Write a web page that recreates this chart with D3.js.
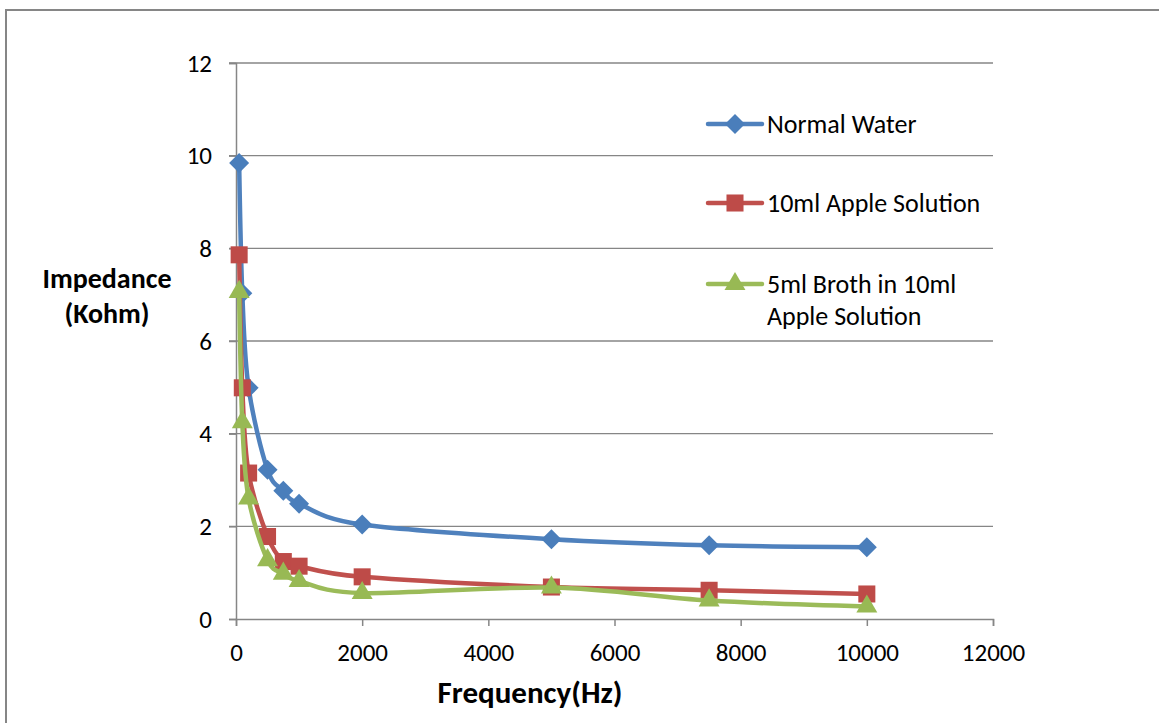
<!DOCTYPE html>
<html><head><meta charset="utf-8">
<script src="https://cdn.jsdelivr.net/npm/d3@7"></script>
<style>body{margin:0;background:#fff;}svg{display:block;}</style>
</head><body>
<svg id="c" width="1159" height="723"></svg>
<script>
const freqBlue = [50, 100, 200, 500, 750, 1000, 2000, 5000, 7500, 10000];
const normalWater = [9.84, 7.03, 4.99, 3.22, 2.77, 2.49, 2.04, 1.72, 1.59, 1.55];
const freqRed = [50, 100, 200, 500, 750, 1000, 2000, 5000, 7500, 10000];
const appleSolution = [7.86, 4.99, 3.15, 1.78, 1.24, 1.14, 0.91, 0.69, 0.62, 0.54];
const freqGreen = [50, 100, 200, 500, 750, 1000, 2000, 5000, 7500, 10000];
const brothSolution = [7.06, 4.25, 2.60, 1.27, 0.98, 0.82, 0.56, 0.68, 0.40, 0.27];
const xTicks = [0, 2000, 4000, 6000, 8000, 10000, 12000];
const yTicks = [0, 2, 4, 6, 8, 10, 12];
const seriesNames = ["Normal Water", "10ml Apple Solution", "5ml Broth in 10ml Apple Solution"];

const svg = d3.select("#c");
const font = "Carlito, Calibri, Lato, sans-serif";
const grid = "#868686";

svg.append("path").attr("d", "M6,723 V10 H1159").attr("fill", "none").attr("stroke", grid).attr("stroke-width", 2);

const x = d3.scaleLinear().domain([0, 12000]).range([236, 993]);
const y = d3.scaleLinear().domain([0, 12]).range([619, 63]);

svg.append("g").selectAll("line").data(yTicks.filter(d => d > 0)).join("line")
  .attr("x1", 229).attr("x2", 993).attr("y1", d => y(d)).attr("y2", d => y(d))
  .attr("stroke", grid).attr("stroke-width", 1.3);

const yAxis = svg.append("g").attr("transform", "translate(236,0)")
  .call(d3.axisLeft(y).tickValues(yTicks).tickFormat(d3.format("d")).tickSize(7).tickPadding(17));
const xAxis = svg.append("g").attr("transform", "translate(0,619)")
  .call(d3.axisBottom(x).tickValues(xTicks).tickFormat(d3.format("d")).tickSize(7).tickPadding(17));
[yAxis, xAxis].forEach(a => {
  a.selectAll("path,line").attr("stroke", grid).attr("stroke-width", 1.5);
  a.selectAll("text").attr("font-family", font).attr("font-size", 25).attr("fill", "#000");
});

svg.append("text").attr("x", 107).attr("y", 288).attr("text-anchor", "middle")
  .attr("font-family", font).attr("font-weight", "bold").attr("font-size", 28).text("Impedance");
svg.append("text").attr("x", 107).attr("y", 323).attr("text-anchor", "middle")
  .attr("font-family", font).attr("font-weight", "bold").attr("font-size", 28).text("(Kohm)");
svg.append("text").attr("x", 530).attr("y", 703).attr("text-anchor", "middle")
  .attr("font-family", font).attr("font-weight", "bold").attr("font-size", 31).text("Frequency(Hz)");

const diamond = {draw(ctx, size) { const r = Math.sqrt(size / 2); ctx.moveTo(0, -r); ctx.lineTo(r, 0); ctx.lineTo(0, r); ctx.lineTo(-r, 0); ctx.closePath(); }};

const series = [
  {name: seriesNames[0], xs: freqBlue, ys: normalWater, line: "#4F81BD", fill: "#4A7EBB", sym: diamond, size: 200},
  {name: seriesNames[1], xs: freqRed, ys: appleSolution, line: "#C0504D", fill: "#BE4B48", sym: d3.symbolSquare, size: 290},
  {name: seriesNames[2], xs: freqGreen, ys: brothSolution, line: "#9BBB59", fill: "#98B954", sym: d3.symbolTriangle, size: 190}
];

const lineGen = d3.line().curve(d3.curveCatmullRom.alpha(0));
series.forEach(s => {
  const pts = s.xs.map((f, i) => [x(f), y(s.ys[i])]);
  svg.append("path").attr("d", lineGen(pts)).attr("fill", "none")
    .attr("stroke", s.line).attr("stroke-width", 4.5).attr("stroke-linejoin", "round");
  svg.append("g").selectAll("path").data(pts).join("path")
    .attr("transform", d => `translate(${d[0]},${d[1]})`)
    .attr("d", d3.symbol().type(s.sym).size(s.size)).attr("fill", s.fill);
});

const legY = [124, 203, 284];
series.forEach((s, i) => {
  const g = svg.append("g").attr("transform", `translate(0,${legY[i]})`);
  g.append("line").attr("x1", 708).attr("x2", 762).attr("y1", 0).attr("y2", 0)
    .attr("stroke", s.line).attr("stroke-width", 4.5).attr("stroke-linecap", "round");
  g.append("path").attr("transform", "translate(735,0)")
    .attr("d", d3.symbol().type(s.sym).size(s.size)).attr("fill", s.fill);
});
const legText = [[seriesNames[0]], [seriesNames[1]], ["5ml Broth in 10ml", "Apple Solution"]];
legText.forEach((lines, i) => {
  lines.forEach((t, j) => {
    svg.append("text").attr("x", 767).attr("y", legY[i] + 9 + j * 32)
      .attr("font-family", font).attr("font-size", 26).attr("fill", "#000").text(t);
  });
});
</script>
</body></html>
